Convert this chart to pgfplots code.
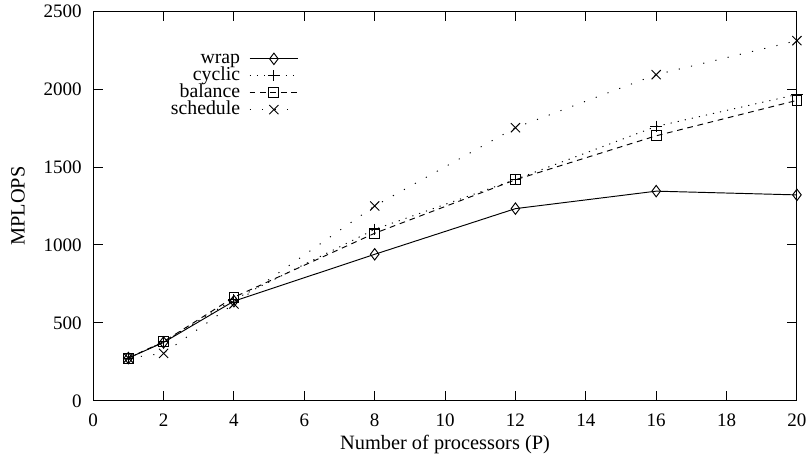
\documentclass[border=0pt]{standalone}
\usepackage{fontspec}
\setmainfont{Liberation Serif}
\usepackage{pgfplots}
\pgfplotsset{compat=1.18}
\begin{document}
\begin{tikzpicture}
\useasboundingbox (-49pt,-31.6pt) rectangle (375.3pt,210.8pt);
\begin{axis}[
  scale only axis,
  width=370pt, height=205pt,
  xmin=0, xmax=20, ymin=0, ymax=2500,
  xtick={0,2,...,20}, ytick={0,500,...,2500},
  tick align=inside,
  major tick length=5pt,
  /pgf/number format/assume math mode=true,
  /pgf/number format/set thousands separator={},
  axis line style={line width=0.5pt},
  every tick/.style={black, line width=0.5pt},
  tick label style={font=\fontsize{10}{12}\selectfont},
  label style={font=\fontsize{10.7}{13}\selectfont},
  yticklabel style={xshift=-2.5pt},
  xticklabel style={yshift=-3.5pt},
  xlabel={Number of processors (P)},
  ylabel={MPLOPS},
  xlabel style={at={(axis description cs:0.5,-0.112)}, anchor=center},
  ylabel style={at={(axis description cs:-0.1068,0.5)}, anchor=center, rotate=0},
  legend plot pos=right,
  legend image code/.code={\draw[mark repeat=2,mark phase=2] plot coordinates {(0cm,0cm)(0.45cm,0cm)(0.9cm,0cm)};},
  legend style={draw=none, fill=none, at={(axis description cs:0.2926,0.9)}, anchor=north east,
    inner sep=0pt, column sep=4.7pt, row sep=0pt,
    font=\fontsize{10.4}{12}\selectfont,
    cells={anchor=east},
    nodes={inner xsep=0pt, inner ysep=0pt, text height=6.8pt, text depth=2.1pt}},
  every axis plot/.append style={line width=0.5pt, black},
]
\addplot[solid, mark=diamond, mark size=3pt, mark options={solid}] coordinates {
(1,275) (2,375) (4,640) (8,940) (12,1233) (16,1345) (20,1321)};
\addlegendentry{wrap}
\addplot[dash pattern=on 0.6pt off 3.2pt, mark=+, mark size=3pt, mark options={solid}] coordinates {
(1,275) (2,380) (4,650) (8,1100) (12,1420) (16,1760) (20,1965)};
\addlegendentry{cyclic}
\addplot[dash pattern=on 3pt off 2.5pt, mark=square, mark size=2.6pt, mark options={solid}] coordinates {
(1,275) (2,380) (4,665) (8,1075) (12,1418) (16,1700) (20,1927)};
\addlegendentry{balance}
\addplot[dash pattern=on 0.6pt off 6pt, mark=x, mark size=3.4pt, mark options={solid}] coordinates {
(1,275) (2,305) (4,622) (8,1250) (12,1752) (16,2092) (20,2310)};
\addlegendentry{schedule}
\end{axis}
\end{tikzpicture}
\end{document}
